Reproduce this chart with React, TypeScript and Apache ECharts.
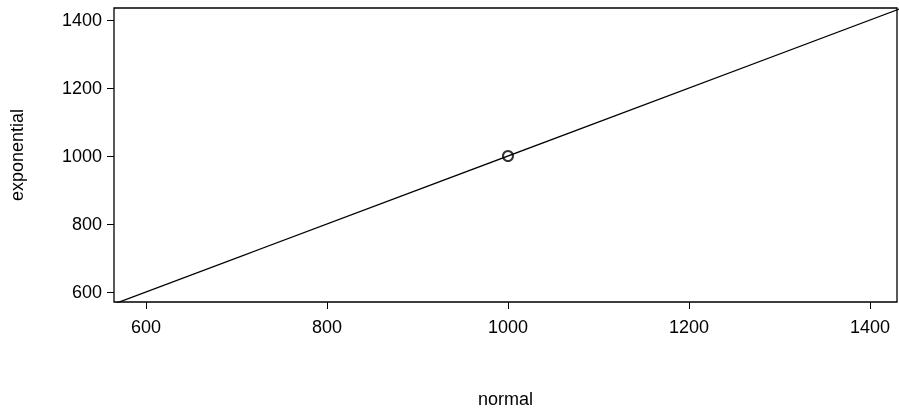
import React, { useEffect, useRef } from "react";
import * as echarts from "echarts";

const xTicks = [600, 800, 1000, 1200, 1400];
const points = [[1000, 1000]];
const refLine = [[500, 500], [1500, 1500]];

export default function App() {
  const ref = useRef<HTMLDivElement>(null);
  useEffect(() => {
    const chart = echarts.init(ref.current!, null, { renderer: "svg" });
    const font = "Liberation Sans, Arial, sans-serif";
    const fmt = (v: number) => String(Math.round(v));
    chart.setOption({
      animation: false,
      grid: { left: 113, right: 2, top: 8, bottom: 113, show: true, borderColor: "#000", borderWidth: 1.3, backgroundColor: "transparent" },
      xAxis: {
        type: "value", min: 564.7, max: 1429.8,
        name: "normal", nameLocation: "middle", nameGap: 88,
        nameTextStyle: { fontFamily: font, fontSize: 18, color: "#000" },
        axisLine: { show: false }, splitLine: { show: false },
        axisTick: { show: true, length: 7, lineStyle: { color: "#000" }, customValues: xTicks },
        axisLabel: { fontFamily: font, fontSize: 18, color: "#000", margin: 16, customValues: xTicks, formatter: fmt },
      },
      yAxis: {
        type: "value", min: 570.6, max: 1435.3,
        name: "exponential", nameLocation: "middle", nameGap: 88,
        nameTextStyle: { fontFamily: font, fontSize: 18, color: "#000" },
        axisLine: { show: false }, splitLine: { show: false },
        axisTick: { show: true, length: 7, lineStyle: { color: "#000" }, customValues: xTicks },
        axisLabel: { fontFamily: font, fontSize: 18, color: "#000", margin: 12, customValues: xTicks, formatter: fmt },
      },
      series: [
        { type: "line", data: refLine, symbol: "none", clip: true, lineStyle: { color: "#000", width: 1.3 } },
        { type: "scatter", data: points, symbol: "circle", symbolSize: 10, itemStyle: { color: "transparent", borderColor: "#000", borderWidth: 2 } },
      ],
    });
    return () => chart.dispose();
  }, []);
  return <div ref={ref} style={{ position: "fixed", left: 0, top: 0, width: 899, height: 415 }} />;
}
